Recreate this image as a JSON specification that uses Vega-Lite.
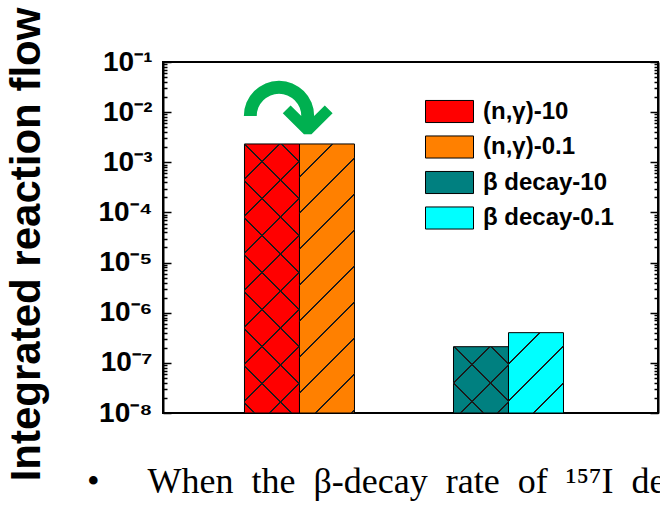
{
  "$schema": "https://vega.github.io/schema/vega-lite/v6.json",
  "width": 495,
  "height": 351,
  "autosize": {"type": "none"},
  "padding": {"left": 163, "top": 62, "right": 2, "bottom": 96},
  "background": "white",
  "title": {"text": "•\u2003\u2004When\u2002the\u2002β-decay\u2002rate\u2002of\u2002¹⁵⁷I\u2002de", "orient": "bottom", "anchor": "start", "frame": "group",
    "font": "Liberation Serif", "fontWeight": "normal", "fontSize": 36, "color": "black", "baseline": "alphabetic",
    "dx": -76, "offset": 12},
  "config": {
    "font": "Liberation Sans",
    "view": {"stroke": "black", "strokeWidth": 2},
    "axis": {"domainColor": "black", "domainWidth": 2, "tickColor": "black", "labelColor": "black", "titleColor": "black", "grid": false}
  },
  "datasets": {
    "bars": [
      {"group": "(n,γ)", "rate": "10", "series": "(n,γ)-10", "flow": 0.00232},
      {"group": "(n,γ)", "rate": "0.1", "series": "(n,γ)-0.1", "flow": 0.00232},
      {"group": "β decay", "rate": "10", "series": "β decay-10", "flow": 2.1e-7},
      {"group": "β decay", "rate": "0.1", "series": "β decay-0.1", "flow": 4.0e-7}
    ],
    "note": [{"group": "(n,γ)", "flow": 0.0061, "label": "↷"}]
  },
  "resolve": {"axis": {"y": "independent"}},
  "layer": [
    {
      "data": {"name": "bars"},
      "mark": {"type": "bar", "stroke": "black", "strokeWidth": 1},
      "encoding": {
        "x": {"field": "group", "type": "nominal", "sort": null,
          "scale": {"domain": ["(n,γ)", "β decay"], "paddingInner": 0.4737, "paddingOuter": 0.421, "align": 0.463},
          "axis": {"labels": false, "ticks": false, "domain": true, "domainColor": "black", "domainWidth": 2, "title": null}},
        "xOffset": {"field": "rate", "type": "nominal", "sort": null, "scale": {"domain": ["10", "0.1"], "paddingInner": 0, "paddingOuter": 0}},
        "y": {"field": "flow", "type": "quantitative",
          "scale": {"type": "log", "domain": [1e-8, 0.1], "nice": false},
          "axis": {"orient": "left",
            "values": [1e-8,2e-8,3e-8,4e-8,5e-8,6e-8,7e-8,8e-8,9e-8,1e-7,2e-7,3e-7,4e-7,5e-7,6e-7,7e-7,8e-7,9e-7,1e-6,2e-6,3e-6,4e-6,5e-6,6e-6,7e-6,8e-6,9e-6,1e-5,2e-5,3e-5,4e-5,5e-5,6e-5,7e-5,8e-5,9e-5,1e-4,2e-4,3e-4,4e-4,5e-4,6e-4,7e-4,8e-4,9e-4,1e-3,2e-3,3e-3,4e-3,5e-3,6e-3,7e-3,8e-3,9e-3,0.01,0.02,0.03,0.04,0.05,0.06,0.07,0.08,0.09,0.1],
            "labelExpr": "abs(log(datum.value)/LN10 - round(log(datum.value)/LN10)) < 0.001 ? '10⁻' + ['⁰','¹','²','³','⁴','⁵','⁶','⁷','⁸','⁹'][-round(log(datum.value)/LN10)] : ''",
            "labelFont": "Liberation Sans", "labelFontWeight": "bold", "labelFontSize": 28, "labelColor": "black",
            "labelPadding": 19, "labelOverlap": false, "labelFlush": false, "labelBound": false,
            "tickSize": {"condition": {"test": "abs(log(datum.value)/LN10 - round(log(datum.value)/LN10)) < 0.001", "value": -8}, "value": -4},
            "tickWidth": 1.5, "tickColor": "black",
            "title": "Integrated reaction flow", "titleFont": "Liberation Sans", "titleFontWeight": "bold", "titleFontSize": 42,
            "titleAngle": 270, "titleX": -124, "titleY": 182, "titleAlign": "center", "titleBaseline": "alphabetic"}},
        "y2": {"datum": 1e-8},
        "color": {"field": "series", "type": "nominal", "sort": null,
          "scale": {"domain": ["(n,γ)-10", "(n,γ)-0.1", "β decay-10", "β decay-0.1"], "range": ["#ff0000", "#ff8000", "#008080", "#00ffff"]},
          "legend": {"orient": "none", "legendX": 274, "legendY": 37, "title": null, "padding": 0,
            "symbolType": "M-2,-0.92H2V0.92H-2Z", "symbolSize": 576, "symbolStrokeColor": "black", "symbolStrokeWidth": 1,
            "labelFont": "Liberation Sans", "labelFontWeight": "bold", "labelFontSize": 24, "labelColor": "black",
            "labelOffset": 21, "rowPadding": 8.5}
        }
      }
    },
    {
      "data": {"name": "bars"},
      "transform": [{"filter": "datum.series === '(n,γ)-10'"}],
      "mark": {"type": "bar", "strokeWidth": 0, "fill": {"gradient": "linear", "x1": 0, "y1": 0, "x2": 0.2364, "y2": 1.1561, "stops": [
        {"offset": 0, "color": "rgba(0,0,0,0)"},
        {"offset": 0.1052, "color": "rgba(0,0,0,0)"}, {"offset": 0.1052, "color": "#1a1a1a"}, {"offset": 0.1108, "color": "#1a1a1a"}, {"offset": 0.1108, "color": "rgba(0,0,0,0)"},
        {"offset": 0.2194, "color": "rgba(0,0,0,0)"}, {"offset": 0.2194, "color": "#1a1a1a"}, {"offset": 0.2250, "color": "#1a1a1a"}, {"offset": 0.2250, "color": "rgba(0,0,0,0)"},
        {"offset": 0.3336, "color": "rgba(0,0,0,0)"}, {"offset": 0.3336, "color": "#1a1a1a"}, {"offset": 0.3392, "color": "#1a1a1a"}, {"offset": 0.3392, "color": "rgba(0,0,0,0)"},
        {"offset": 0.4478, "color": "rgba(0,0,0,0)"}, {"offset": 0.4478, "color": "#1a1a1a"}, {"offset": 0.4534, "color": "#1a1a1a"}, {"offset": 0.4534, "color": "rgba(0,0,0,0)"},
        {"offset": 0.5620, "color": "rgba(0,0,0,0)"}, {"offset": 0.5620, "color": "#1a1a1a"}, {"offset": 0.5676, "color": "#1a1a1a"}, {"offset": 0.5676, "color": "rgba(0,0,0,0)"},
        {"offset": 0.6762, "color": "rgba(0,0,0,0)"}, {"offset": 0.6762, "color": "#1a1a1a"}, {"offset": 0.6818, "color": "#1a1a1a"}, {"offset": 0.6818, "color": "rgba(0,0,0,0)"},
        {"offset": 0.7904, "color": "rgba(0,0,0,0)"}, {"offset": 0.7904, "color": "#1a1a1a"}, {"offset": 0.7960, "color": "#1a1a1a"}, {"offset": 0.7960, "color": "rgba(0,0,0,0)"},
        {"offset": 0.9046, "color": "rgba(0,0,0,0)"}, {"offset": 0.9046, "color": "#1a1a1a"}, {"offset": 0.9102, "color": "#1a1a1a"}, {"offset": 0.9102, "color": "rgba(0,0,0,0)"},
        {"offset": 1, "color": "rgba(0,0,0,0)"}]}},
      "encoding": {
        "x": {"field": "group", "type": "nominal", "sort": null, "scale": {"domain": ["(n,γ)", "β decay"], "paddingInner": 0.4737, "paddingOuter": 0.421, "align": 0.463}, "axis": null},
        "xOffset": {"field": "rate", "type": "nominal", "sort": null, "scale": {"domain": ["10", "0.1"], "paddingInner": 0, "paddingOuter": 0}},
        "y": {"field": "flow", "type": "quantitative", "scale": {"type": "log", "domain": [1e-8, 0.1], "nice": false}, "axis": null},
        "y2": {"datum": 1e-8}
      }
    },
    {
      "data": {"name": "bars"},
      "transform": [{"filter": "datum.series === '(n,γ)-10'"}],
      "mark": {"type": "bar", "strokeWidth": 0, "fill": {"gradient": "linear", "x1": 1, "y1": 0, "x2": 0.7636, "y2": 1.1561, "stops": [
        {"offset": 0, "color": "rgba(0,0,0,0)"},
        {"offset": 0.0537, "color": "rgba(0,0,0,0)"}, {"offset": 0.0537, "color": "#1a1a1a"}, {"offset": 0.0593, "color": "#1a1a1a"}, {"offset": 0.0593, "color": "rgba(0,0,0,0)"},
        {"offset": 0.1679, "color": "rgba(0,0,0,0)"}, {"offset": 0.1679, "color": "#1a1a1a"}, {"offset": 0.1735, "color": "#1a1a1a"}, {"offset": 0.1735, "color": "rgba(0,0,0,0)"},
        {"offset": 0.2821, "color": "rgba(0,0,0,0)"}, {"offset": 0.2821, "color": "#1a1a1a"}, {"offset": 0.2877, "color": "#1a1a1a"}, {"offset": 0.2877, "color": "rgba(0,0,0,0)"},
        {"offset": 0.3963, "color": "rgba(0,0,0,0)"}, {"offset": 0.3963, "color": "#1a1a1a"}, {"offset": 0.4019, "color": "#1a1a1a"}, {"offset": 0.4019, "color": "rgba(0,0,0,0)"},
        {"offset": 0.5105, "color": "rgba(0,0,0,0)"}, {"offset": 0.5105, "color": "#1a1a1a"}, {"offset": 0.5161, "color": "#1a1a1a"}, {"offset": 0.5161, "color": "rgba(0,0,0,0)"},
        {"offset": 0.6247, "color": "rgba(0,0,0,0)"}, {"offset": 0.6247, "color": "#1a1a1a"}, {"offset": 0.6303, "color": "#1a1a1a"}, {"offset": 0.6303, "color": "rgba(0,0,0,0)"},
        {"offset": 0.7389, "color": "rgba(0,0,0,0)"}, {"offset": 0.7389, "color": "#1a1a1a"}, {"offset": 0.7445, "color": "#1a1a1a"}, {"offset": 0.7445, "color": "rgba(0,0,0,0)"},
        {"offset": 0.8531, "color": "rgba(0,0,0,0)"}, {"offset": 0.8531, "color": "#1a1a1a"}, {"offset": 0.8587, "color": "#1a1a1a"}, {"offset": 0.8587, "color": "rgba(0,0,0,0)"},
        {"offset": 0.9673, "color": "rgba(0,0,0,0)"}, {"offset": 0.9673, "color": "#1a1a1a"}, {"offset": 0.9729, "color": "#1a1a1a"}, {"offset": 0.9729, "color": "rgba(0,0,0,0)"},
        {"offset": 1, "color": "rgba(0,0,0,0)"}]}},
      "encoding": {
        "x": {"field": "group", "type": "nominal", "sort": null, "scale": {"domain": ["(n,γ)", "β decay"], "paddingInner": 0.4737, "paddingOuter": 0.421, "align": 0.463}, "axis": null},
        "xOffset": {"field": "rate", "type": "nominal", "sort": null, "scale": {"domain": ["10", "0.1"], "paddingInner": 0, "paddingOuter": 0}},
        "y": {"field": "flow", "type": "quantitative", "scale": {"type": "log", "domain": [1e-8, 0.1], "nice": false}, "axis": null},
        "y2": {"datum": 1e-8}
      }
    },
    {
      "data": {"name": "bars"},
      "transform": [{"filter": "datum.series === '(n,γ)-0.1'"}],
      "mark": {"type": "bar", "strokeWidth": 0, "fill": {"gradient": "linear", "x1": 0, "y1": 0, "x2": 0.2364, "y2": 1.1561, "stops": [
        {"offset": 0, "color": "rgba(0,0,0,0)"},
        {"offset": 0.0991, "color": "rgba(0,0,0,0)"}, {"offset": 0.0991, "color": "#1a1a1a"}, {"offset": 0.1047, "color": "#1a1a1a"}, {"offset": 0.1047, "color": "rgba(0,0,0,0)"},
        {"offset": 0.2102, "color": "rgba(0,0,0,0)"}, {"offset": 0.2102, "color": "#1a1a1a"}, {"offset": 0.2158, "color": "#1a1a1a"}, {"offset": 0.2158, "color": "rgba(0,0,0,0)"},
        {"offset": 0.3213, "color": "rgba(0,0,0,0)"}, {"offset": 0.3213, "color": "#1a1a1a"}, {"offset": 0.3269, "color": "#1a1a1a"}, {"offset": 0.3269, "color": "rgba(0,0,0,0)"},
        {"offset": 0.4324, "color": "rgba(0,0,0,0)"}, {"offset": 0.4324, "color": "#1a1a1a"}, {"offset": 0.4380, "color": "#1a1a1a"}, {"offset": 0.4380, "color": "rgba(0,0,0,0)"},
        {"offset": 0.5435, "color": "rgba(0,0,0,0)"}, {"offset": 0.5435, "color": "#1a1a1a"}, {"offset": 0.5491, "color": "#1a1a1a"}, {"offset": 0.5491, "color": "rgba(0,0,0,0)"},
        {"offset": 0.6546, "color": "rgba(0,0,0,0)"}, {"offset": 0.6546, "color": "#1a1a1a"}, {"offset": 0.6602, "color": "#1a1a1a"}, {"offset": 0.6602, "color": "rgba(0,0,0,0)"},
        {"offset": 0.7657, "color": "rgba(0,0,0,0)"}, {"offset": 0.7657, "color": "#1a1a1a"}, {"offset": 0.7713, "color": "#1a1a1a"}, {"offset": 0.7713, "color": "rgba(0,0,0,0)"},
        {"offset": 0.8768, "color": "rgba(0,0,0,0)"}, {"offset": 0.8768, "color": "#1a1a1a"}, {"offset": 0.8824, "color": "#1a1a1a"}, {"offset": 0.8824, "color": "rgba(0,0,0,0)"},
        {"offset": 0.9879, "color": "rgba(0,0,0,0)"}, {"offset": 0.9879, "color": "#1a1a1a"}, {"offset": 0.9935, "color": "#1a1a1a"}, {"offset": 0.9935, "color": "rgba(0,0,0,0)"},
        {"offset": 1, "color": "rgba(0,0,0,0)"}]}},
      "encoding": {
        "x": {"field": "group", "type": "nominal", "sort": null, "scale": {"domain": ["(n,γ)", "β decay"], "paddingInner": 0.4737, "paddingOuter": 0.421, "align": 0.463}, "axis": null},
        "xOffset": {"field": "rate", "type": "nominal", "sort": null, "scale": {"domain": ["10", "0.1"], "paddingInner": 0, "paddingOuter": 0}},
        "y": {"field": "flow", "type": "quantitative", "scale": {"type": "log", "domain": [1e-8, 0.1], "nice": false}, "axis": null},
        "y2": {"datum": 1e-8}
      }
    },
    {
      "data": {"name": "bars"},
      "transform": [{"filter": "datum.series === 'β decay-10'"}],
      "mark": {"type": "bar", "strokeWidth": 0, "fill": {"gradient": "linear", "x1": 0, "y1": 0, "x2": 0.899, "y2": 1.0838, "stops": [
        {"offset": 0, "color": "rgba(0,0,0,0)"},
        {"offset": 0.2950, "color": "rgba(0,0,0,0)"}, {"offset": 0.2950, "color": "#1a1a1a"}, {"offset": 0.3102, "color": "#1a1a1a"}, {"offset": 0.3102, "color": "rgba(0,0,0,0)"},
        {"offset": 0.6000, "color": "rgba(0,0,0,0)"}, {"offset": 0.6000, "color": "#1a1a1a"}, {"offset": 0.6152, "color": "#1a1a1a"}, {"offset": 0.6152, "color": "rgba(0,0,0,0)"},
        {"offset": 0.9050, "color": "rgba(0,0,0,0)"}, {"offset": 0.9050, "color": "#1a1a1a"}, {"offset": 0.9202, "color": "#1a1a1a"}, {"offset": 0.9202, "color": "rgba(0,0,0,0)"},
        {"offset": 1, "color": "rgba(0,0,0,0)"}]}},
      "encoding": {
        "x": {"field": "group", "type": "nominal", "sort": null, "scale": {"domain": ["(n,γ)", "β decay"], "paddingInner": 0.4737, "paddingOuter": 0.421, "align": 0.463}, "axis": null},
        "xOffset": {"field": "rate", "type": "nominal", "sort": null, "scale": {"domain": ["10", "0.1"], "paddingInner": 0, "paddingOuter": 0}},
        "y": {"field": "flow", "type": "quantitative", "scale": {"type": "log", "domain": [1e-8, 0.1], "nice": false}, "axis": null},
        "y2": {"datum": 1e-8}
      }
    },
    {
      "data": {"name": "bars"},
      "transform": [{"filter": "datum.series === 'β decay-10'"}],
      "mark": {"type": "bar", "strokeWidth": 0, "fill": {"gradient": "linear", "x1": 1, "y1": 0, "x2": 0.101, "y2": 1.0838, "stops": [
        {"offset": 0, "color": "rgba(0,0,0,0)"},
        {"offset": 0.1350, "color": "rgba(0,0,0,0)"}, {"offset": 0.1350, "color": "#1a1a1a"}, {"offset": 0.1502, "color": "#1a1a1a"}, {"offset": 0.1502, "color": "rgba(0,0,0,0)"},
        {"offset": 0.4400, "color": "rgba(0,0,0,0)"}, {"offset": 0.4400, "color": "#1a1a1a"}, {"offset": 0.4552, "color": "#1a1a1a"}, {"offset": 0.4552, "color": "rgba(0,0,0,0)"},
        {"offset": 0.7451, "color": "rgba(0,0,0,0)"}, {"offset": 0.7451, "color": "#1a1a1a"}, {"offset": 0.7603, "color": "#1a1a1a"}, {"offset": 0.7603, "color": "rgba(0,0,0,0)"},
        {"offset": 1, "color": "rgba(0,0,0,0)"}]}},
      "encoding": {
        "x": {"field": "group", "type": "nominal", "sort": null, "scale": {"domain": ["(n,γ)", "β decay"], "paddingInner": 0.4737, "paddingOuter": 0.421, "align": 0.463}, "axis": null},
        "xOffset": {"field": "rate", "type": "nominal", "sort": null, "scale": {"domain": ["10", "0.1"], "paddingInner": 0, "paddingOuter": 0}},
        "y": {"field": "flow", "type": "quantitative", "scale": {"type": "log", "domain": [1e-8, 0.1], "nice": false}, "axis": null},
        "y2": {"datum": 1e-8}
      }
    },
    {
      "data": {"name": "bars"},
      "transform": [{"filter": "datum.series === 'β decay-0.1'"}],
      "mark": {"type": "bar", "strokeWidth": 0, "fill": {"gradient": "linear", "x1": 0, "y1": 0, "x2": 0.7855, "y2": 1.1469, "stops": [
        {"offset": 0, "color": "rgba(0,0,0,0)"},
        {"offset": 0.2223, "color": "rgba(0,0,0,0)"}, {"offset": 0.2223, "color": "#1a1a1a"}, {"offset": 0.2359, "color": "#1a1a1a"}, {"offset": 0.2359, "color": "rgba(0,0,0,0)"},
        {"offset": 0.4958, "color": "rgba(0,0,0,0)"}, {"offset": 0.4958, "color": "#1a1a1a"}, {"offset": 0.5094, "color": "#1a1a1a"}, {"offset": 0.5094, "color": "rgba(0,0,0,0)"},
        {"offset": 0.7693, "color": "rgba(0,0,0,0)"}, {"offset": 0.7693, "color": "#1a1a1a"}, {"offset": 0.7829, "color": "#1a1a1a"}, {"offset": 0.7829, "color": "rgba(0,0,0,0)"},
        {"offset": 1, "color": "rgba(0,0,0,0)"}]}},
      "encoding": {
        "x": {"field": "group", "type": "nominal", "sort": null, "scale": {"domain": ["(n,γ)", "β decay"], "paddingInner": 0.4737, "paddingOuter": 0.421, "align": 0.463}, "axis": null},
        "xOffset": {"field": "rate", "type": "nominal", "sort": null, "scale": {"domain": ["10", "0.1"], "paddingInner": 0, "paddingOuter": 0}},
        "y": {"field": "flow", "type": "quantitative", "scale": {"type": "log", "domain": [1e-8, 0.1], "nice": false}, "axis": null},
        "y2": {"datum": 1e-8}
      }
    },
    {
      "data": {"name": "note"},
      "mark": {"type": "text", "font": "DejaVu Sans", "fontWeight": "bold", "fontSize": 110, "fill": "#00b050", "baseline": "middle", "align": "center", "dx": -12},
      "encoding": {
        "x": {"field": "group", "type": "nominal", "sort": null, "scale": {"domain": ["(n,γ)", "β decay"], "paddingInner": 0.4737, "paddingOuter": 0.421, "align": 0.463}, "axis": null},
        "y": {"field": "flow", "type": "quantitative", "scale": {"type": "log", "domain": [1e-8, 0.1], "nice": false},
          "axis": {"orient": "right", "labels": false, "title": null, "grid": false,
            "values": [1e-8,2e-8,3e-8,4e-8,5e-8,6e-8,7e-8,8e-8,9e-8,1e-7,2e-7,3e-7,4e-7,5e-7,6e-7,7e-7,8e-7,9e-7,1e-6,2e-6,3e-6,4e-6,5e-6,6e-6,7e-6,8e-6,9e-6,1e-5,2e-5,3e-5,4e-5,5e-5,6e-5,7e-5,8e-5,9e-5,1e-4,2e-4,3e-4,4e-4,5e-4,6e-4,7e-4,8e-4,9e-4,1e-3,2e-3,3e-3,4e-3,5e-3,6e-3,7e-3,8e-3,9e-3,0.01,0.02,0.03,0.04,0.05,0.06,0.07,0.08,0.09,0.1],
            "tickSize": {"condition": {"test": "abs(log(datum.value)/LN10 - round(log(datum.value)/LN10)) < 0.001", "value": -8}, "value": -4},
            "tickWidth": 1.5, "tickColor": "black", "domainColor": "black", "domainWidth": 2}},
        "text": {"field": "label"}
      }
    }
  ]
}
